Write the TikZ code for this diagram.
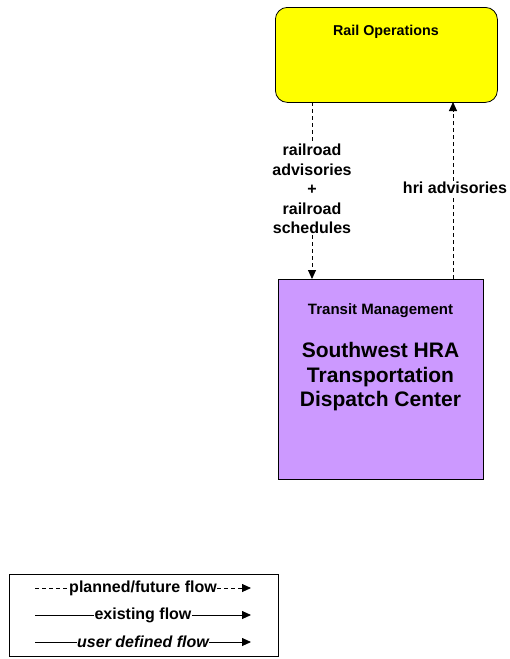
\documentclass[tikz,border=0pt]{standalone}
\usepackage{fontspec}
\setmainfont{Liberation Sans}
\usetikzlibrary{arrows.meta}
\definecolor{railyellow}{RGB}{255,255,0}
\definecolor{tmpurple}{RGB}{204,153,255}
\begin{document}
\begin{tikzpicture}[x=1pt,y=-1pt,
  flowdash/.style={draw=black, line width=0.9pt, dash pattern=on 4pt off 3pt, -{Triangle[length=9pt,width=8pt]}},
  flowsolid/.style={draw=black, line width=0.9pt, -{Triangle[length=9pt,width=8pt]}},
  lbl/.style={font=\bfseries\fontsize{16}{19.5}\selectfont, align=center, fill=white, inner sep=1pt},
  legtxt/.style={font=\bfseries\fontsize{16}{18}\selectfont, fill=white, inner sep=0.5pt}]
\useasboundingbox (0,0) rectangle (510,659);
% Rail Operations
\node[draw=black, line width=0.8pt, fill=railyellow, rounded corners=12pt, minimum width=222pt, minimum height=95pt, anchor=north west] (rail) at (275,7) {};
\node[font=\bfseries\fontsize{14.3}{16}\selectfont] (railt) at (386,32) {Rail Operations};
% Transit
\node[draw=black, line width=0.8pt, fill=tmpurple, minimum width=205pt, minimum height=200pt, anchor=north west] (tm) at (278,279) {};
\node[font=\bfseries\fontsize{15}{17}\selectfont] (tmt) at (380.5,311) {Transit Management};
\node[font=\bfseries\fontsize{21}{24.5}\selectfont, align=center] (tmn) at (380.5,377) {Southwest HRA\\Transportation\\Dispatch Center};
% connectors
\coordinate (a1) at (312,102);
\coordinate (a2) at (312,279);
\coordinate (b1) at (453,279);
\coordinate (b2) at (453,102);
\draw[flowdash] (a1) -- (a2);
\draw[flowdash] (b1) -- (b2);
\node[lbl] (l1) at (312,189) {railroad\\advisories\\+\\railroad\\schedules};
\node[lbl] (l2) at (455,188) {hri advisories};
% legend
\node[draw=black, line width=0.8pt, minimum width=269pt, minimum height=82pt, anchor=north west] (leg) at (9,574) {};
\coordinate (p1) at (35,588); \coordinate (p2) at (251,588);
\coordinate (e1) at (35,615); \coordinate (e2) at (251,615);
\coordinate (u1) at (35,642); \coordinate (u2) at (251,642);
\draw[flowdash] (p1) -- (p2);
\draw[flowsolid] (e1) -- (e2);
\draw[flowsolid] (u1) -- (u2);
\node[legtxt] (pt) at (143,588) {planned/future flow};
\node[legtxt] (et) at (143,615) {existing flow};
\node[legtxt, font=\bfseries\itshape\fontsize{16}{18}\selectfont] (ut) at (143,642) {user defined flow};
\end{tikzpicture}
\end{document}
